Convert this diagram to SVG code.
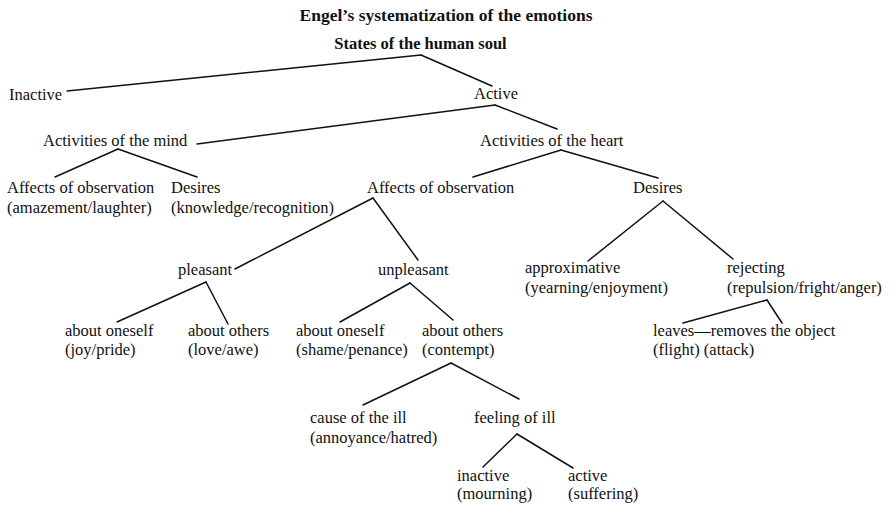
<svg xmlns="http://www.w3.org/2000/svg" width="891" height="509" viewBox="0 0 891 509">
<style>
text{font-family:"Liberation Serif","Times New Roman",serif;font-size:16.5px;fill:#111}
.b{font-weight:bold}
.t{font-size:17.5px}
.c line{stroke:#111;stroke-width:1.5;stroke-linecap:round}
</style>
<rect width="891" height="509" fill="#fff"/>
<text id="title" class="b t" x="446" y="21" text-anchor="middle">Engel’s systematization of the emotions</text>
<g id="n-root"><text class="b" x="420.5" y="49" text-anchor="middle">States of the human soul</text></g>
<g id="n-inactive"><text x="9" y="100">Inactive</text></g>
<g id="n-active"><text x="474" y="99">Active</text></g>
<g id="n-mind"><text x="43" y="146">Activities of the mind</text></g>
<g id="n-heart"><text x="480" y="146">Activities of the heart</text></g>
<g id="n-mind-affects"><text x="7" y="193">Affects of observation</text><text x="7" y="213">(amazement/laughter)</text></g>
<g id="n-mind-desires"><text x="171" y="193">Desires</text><text x="171" y="213">(knowledge/recognition)</text></g>
<g id="n-heart-affects"><text x="367" y="193">Affects of observation</text></g>
<g id="n-heart-desires"><text x="633" y="193">Desires</text></g>
<g id="n-pleasant"><text x="178" y="275">pleasant</text></g>
<g id="n-unpleasant"><text x="378" y="275">unpleasant</text></g>
<g id="n-approx"><text x="525" y="273">approximative</text><text x="525" y="293">(yearning/enjoyment)</text></g>
<g id="n-reject"><text x="727" y="273">rejecting</text><text x="727" y="293">(repulsion/fright/anger)</text></g>
<g id="n-p-self"><text x="65" y="336">about oneself</text><text x="65" y="355">(joy/pride)</text></g>
<g id="n-p-others"><text x="188" y="336">about others</text><text x="188" y="355">(love/awe)</text></g>
<g id="n-u-self"><text x="296" y="336">about oneself</text><text x="296" y="355">(shame/penance)</text></g>
<g id="n-u-others"><text x="422" y="336">about others</text><text x="422" y="355">(contempt)</text></g>
<g id="n-leaves"><text x="653" y="336">leaves—removes the object</text><text x="653" y="355">(flight) (attack)</text></g>
<g id="n-cause"><text x="310" y="423">cause of the ill</text><text x="310" y="443">(annoyance/hatred)</text></g>
<g id="n-feeling"><text x="474" y="423">feeling of ill</text></g>
<g id="n-f-inactive"><text x="457" y="481">inactive</text><text x="457" y="499">(mourning)</text></g>
<g id="n-f-active"><text x="568" y="481">active</text><text x="568" y="499">(suffering)</text></g>
<g id="connectors" class="c">
<line x1="421" y1="55" x2="67" y2="91"/>
<line x1="421" y1="55" x2="492" y2="86"/>
<line x1="495" y1="105" x2="197" y2="144"/>
<line x1="495" y1="105" x2="557" y2="129"/>
<line x1="118" y1="149" x2="55" y2="177"/>
<line x1="118" y1="149" x2="197" y2="177"/>
<line x1="561" y1="150" x2="473" y2="177"/>
<line x1="561" y1="150" x2="658" y2="178"/>
<line x1="373" y1="198" x2="235" y2="269"/>
<line x1="373" y1="198" x2="418" y2="260"/>
<line x1="663" y1="201" x2="588" y2="261"/>
<line x1="663" y1="201" x2="733" y2="259"/>
<line x1="206" y1="282" x2="117" y2="322"/>
<line x1="206" y1="282" x2="228" y2="324"/>
<line x1="410" y1="283" x2="340" y2="322"/>
<line x1="410" y1="283" x2="453" y2="320"/>
<line x1="767" y1="300" x2="683" y2="323"/>
<line x1="767" y1="300" x2="782" y2="323"/>
<line x1="451" y1="363" x2="363" y2="405"/>
<line x1="451" y1="363" x2="519" y2="399"/>
<line x1="517" y1="434" x2="483" y2="467"/>
<line x1="517" y1="434" x2="573" y2="468"/>
</g>
</svg>
